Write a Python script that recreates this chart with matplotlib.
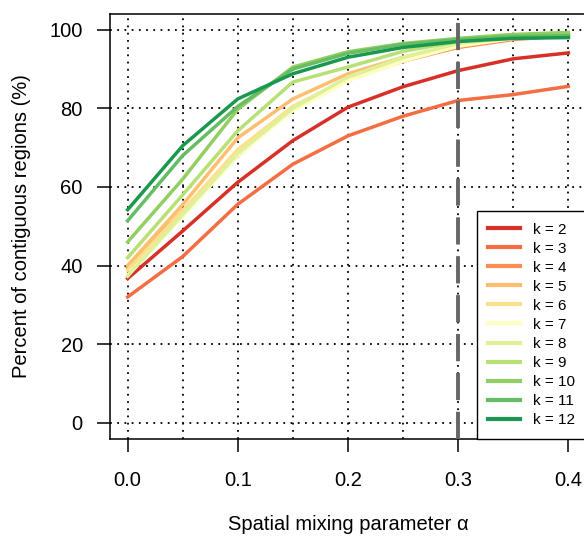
import numpy as np
import matplotlib
matplotlib.use("Agg")
import matplotlib.pyplot as plt

plt.rcParams['font.family'] = ['Liberation Sans', 'DejaVu Sans']

# mixing parameter values
alpha = [0.0, 0.05, 0.1, 0.15, 0.2, 0.25, 0.3, 0.35, 0.4]

# percent of contiguous regions, one list per k
k2 = [36.7, 48.8, 61.2, 71.8, 80.3, 85.5, 89.6, 92.6, 94.1]
k3 = [32.0, 42.3, 55.6, 65.8, 73.0, 78.0, 82.0, 83.5, 85.6]
k4 = [39.5, 54.0, 68.0, 80.0, 87.5, 92.0, 95.5, 97.5, 98.5]
k5 = [40.0, 55.5, 72.5, 82.4, 88.8, 93.0, 96.0, 98.0, 99.0]
k6 = [38.8, 54.0, 69.5, 80.5, 87.5, 92.5, 96.0, 97.8, 98.8]
k7 = [37.5, 52.5, 68.0, 79.4, 87.0, 92.0, 95.8, 97.8, 98.5]
k8 = [37.3, 53.0, 68.5, 80.0, 88.0, 93.0, 96.5, 98.0, 98.8]
k9 = [42.0, 58.0, 74.3, 86.7, 90.5, 94.5, 97.0, 98.5, 99.0]
k10 = [46.0, 62.0, 79.8, 90.5, 94.4, 96.5, 97.8, 98.8, 99.3]
k11 = [51.4, 68.0, 80.5, 90.0, 94.0, 96.3, 97.5, 98.3, 98.5]
k12 = [54.2, 70.5, 82.4, 88.8, 93.0, 95.5, 97.0, 97.8, 98.0]

series = [k2, k3, k4, k5, k6, k7, k8, k9, k10, k11, k12]
labels = ['k = %d' % k for k in range(2, 13)]
cols = ['#D73027', '#F46D43', '#F98E52', '#FDBF6F', '#FEE08B', '#FFFFBF',
        '#DDF19A', '#B7E075', '#91CF60', '#66BD63', '#1A9850']

fig = plt.figure(figsize=(5.84, 5.36), dpi=100)
ax = fig.add_axes([110/584, (536-438.5)/536, (586-110)/584, (438.5-14)/536])

for xv in np.arange(0, 0.41, 0.05):
    ax.axvline(xv, color='black', lw=1.3, ls=(0, (1, 3)), zorder=1)
for yv in range(0, 101, 20):
    ax.axhline(yv, color='black', lw=1.3, ls=(0, (1, 3)), zorder=1)

for s, c, lab in zip(series, cols, labels):
    ax.plot(alpha, s, color=c, lw=2.5, label=lab, zorder=2)

ax.axvline(0.3, color='#666666', lw=2.8, ls=(0, (7, 3)), zorder=3)

ax.set_xlim(-0.016, 0.416)
ax.set_ylim(-4, 104)
ax.set_xticks([0.0, 0.1, 0.2, 0.3, 0.4])
ax.set_xticklabels(['0.0', '0.1', '0.2', '0.3', '0.4'])
ax.set_yticks(range(0, 101, 20))
ax.tick_params(direction='out', length=9.6, width=1.1, labelsize=14.5)
ax.tick_params(axis='x', pad=14)
ax.tick_params(axis='y', pad=10)
for sp in ax.spines.values():
    sp.set_linewidth(1.1)

ax.set_xlabel('Spatial mixing parameter α', fontsize=14.5)
ax.set_ylabel('Percent of contiguous regions (%)', fontsize=14.5)
ax.xaxis.set_label_coords(0.5, (438.5 - 525) / 424.5)
ax.xaxis.label.set_va('center')
ax.yaxis.set_label_coords((21.7 - 110) / 476, 0.5)
ax.yaxis.label.set_va('center')

leg = ax.legend(loc='lower right', bbox_to_anchor=(1, 0), borderaxespad=0,
                fontsize=11, handlelength=2.1, handletextpad=0.8,
                labelspacing=0.33, borderpad=0.75, fancybox=False,
                framealpha=1, edgecolor='black')
leg.get_frame().set_linewidth(1.0)
for h in leg.get_lines():
    h.set_linewidth(3)

fig.savefig('out.png', dpi=100)
